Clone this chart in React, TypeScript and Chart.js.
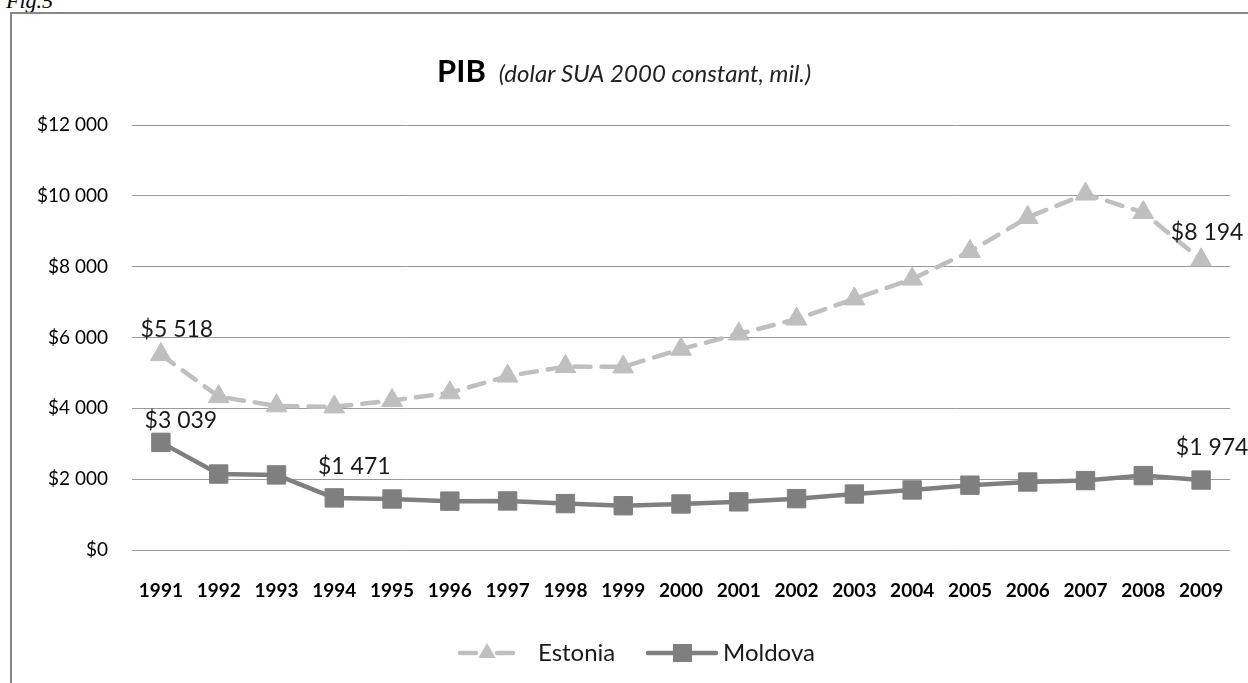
import React, { useEffect, useRef } from "react";
import { Chart, registerables } from "chart.js";

Chart.register(...registerables);

// ---- data ----
const years = ["1991", "1992", "1993", "1994", "1995", "1996", "1997", "1998", "1999", "2000",
  "2001", "2002", "2003", "2004", "2005", "2006", "2007", "2008", "2009"];
const estonia = [5518, 4330, 4070, 4040, 4220, 4440, 4910, 5180, 5170, 5670,
  6100, 6520, 7090, 7650, 8430, 9390, 10050, 9530, 8194];
const moldova = [3039, 2145, 2120, 1471, 1440, 1380, 1385, 1310, 1250, 1300,
  1360, 1450, 1580, 1695, 1830, 1920, 1960, 2100, 1974];
const seriesNames = ["Estonia", "Moldova"];
const estoniaLabeled = [0, 18];
const moldovaLabeled = [0, 3, 18];
const yMin = 0;
const yMax = 12000;
const yStep = 2000;
const titleMain = "PIB";
const titleSub = "(dolar SUA 2000 constant, mil.)";

// ---- styles ----
const FONT = "Lato, 'Open Sans', sans-serif";
const C_EST = "#bfbfbf";
const C_MOL = "#7f7f7f";
const LABEL_OFFSETS: Record<string, [number, number]> = {
  "0-0": [16, -25],
  "0-18": [6, -27],
  "1-0": [20, -22],
  "1-3": [20, -31],
  "1-18": [11, -33],
};

const fmt = (v: number) => "$" + String(Math.round(v)).replace(/\B(?=(\d{3})+(?!\d))/g, " ");

const decorPlugin = {
  id: "decor",
  afterDatasetsDraw(chart: any) {
    const ctx = chart.ctx as CanvasRenderingContext2D;
    ctx.save();
    // data labels
    ctx.fillStyle = "#1a1a1a";
    ctx.font = `23px ${FONT}`;
    ctx.textAlign = "center";
    ctx.textBaseline = "middle";
    const lists = [estoniaLabeled, moldovaLabeled];
    lists.forEach((idxs, di) => {
      const meta = chart.getDatasetMeta(di);
      idxs.forEach((i) => {
        const pt = meta.data[i];
        const off = LABEL_OFFSETS[`${di}-${i}`] || [0, -26];
        const v = chart.data.datasets[di].data[i] as number;
        ctx.fillText(fmt(v), pt.x + off[0], pt.y + off[1]);
      });
    });

    // title
    ctx.textAlign = "left";
    ctx.textBaseline = "alphabetic";
    ctx.fillStyle = "#000";
    ctx.font = `bold 31px ${FONT}`;
    const x0 = 437;
    ctx.fillText(titleMain, x0, 82);
    const w0 = ctx.measureText(titleMain).width;
    ctx.fillStyle = "#222";
    ctx.font = `italic 24px ${FONT}`;
    ctx.fillText(titleSub, x0 + w0 + 13, 82);

    // legend
    const ly = 653;
    const ds = chart.data.datasets;
    ctx.strokeStyle = ds[0].borderColor;
    ctx.lineWidth = 4.5;
    ctx.lineCap = "round";
    ctx.beginPath();
    ctx.moveTo(460, ly); ctx.lineTo(476, ly);
    ctx.moveTo(497, ly); ctx.lineTo(513, ly);
    ctx.stroke();
    ctx.fillStyle = ds[0].pointBackgroundColor;
    const tr = 10;
    ctx.beginPath();
    ctx.moveTo(487, ly - tr);
    ctx.lineTo(487 + tr * 0.866, ly + tr / 2);
    ctx.lineTo(487 - tr * 0.866, ly + tr / 2);
    ctx.closePath();
    ctx.fill();
    ctx.fillStyle = "#1a1a1a";
    ctx.font = `24px ${FONT}`;
    ctx.textBaseline = "middle";
    ctx.fillText(seriesNames[0], 538, ly);
    ctx.strokeStyle = ds[1].borderColor;
    ctx.lineWidth = 4.5;
    ctx.beginPath();
    ctx.moveTo(648, ly); ctx.lineTo(716, ly);
    ctx.stroke();
    ctx.fillStyle = ds[1].pointBackgroundColor;
    ctx.fillRect(673, ly - 9, 19, 18);
    ctx.fillStyle = "#1a1a1a";
    ctx.fillText(seriesNames[1], 723, ly);
    ctx.restore();
  },
};

export default function App() {
  const ref = useRef<HTMLCanvasElement | null>(null);
  useEffect(() => {
    if (!ref.current) return;
    const chart = new Chart(ref.current, {
      type: "line",
      data: {
        labels: years,
        datasets: [
          {
            label: seriesNames[0],
            data: estonia,
            borderColor: C_EST,
            backgroundColor: C_EST,
            borderWidth: 4.5,
            borderDash: [16, 11],
            borderCapStyle: "round",
            pointStyle: "triangle",
            pointRadius: 12,
            pointBackgroundColor: C_EST,
            pointBorderColor: C_EST,
            pointBorderWidth: 1,
            tension: 0,
          },
          {
            label: seriesNames[1],
            data: moldova,
            borderColor: C_MOL,
            backgroundColor: C_MOL,
            borderWidth: 4.5,
            pointStyle: "rect",
            pointRadius: 13,
            pointBackgroundColor: C_MOL,
            pointBorderColor: C_MOL,
            pointBorderWidth: 1,
            tension: 0,
          },
        ],
      },
      options: {
        responsive: false,
        animation: false,
        devicePixelRatio: 1,
        layout: { padding: { left: 20, right: 18, top: 125, bottom: 73 } },
        plugins: {
          legend: { display: false },
          title: { display: false },
          tooltip: { enabled: false },
        },
        scales: {
          x: {
            offset: true,
            grid: { display: false, drawTicks: false },
            border: { display: false },
            ticks: {
              color: "#000",
              font: { family: FONT, size: 19, weight: "bold" },
              padding: 29,
              maxRotation: 0,
              autoSkip: false,
            },
            afterFit: (s: any) => { s.height = 60; s.paddingLeft = 0; s.paddingRight = 0; },
          },
          y: {
            min: yMin,
            max: yMax,
            grid: { color: "#9a9a9a", lineWidth: 1, drawTicks: false },
            border: { display: false },
            ticks: {
              stepSize: yStep,
              color: "#000",
              font: { family: FONT, size: 19 },
              padding: 24,
              callback: (v: any) => fmt(Number(v)),
            },
            afterFit: (s: any) => { s.width = 112; s.paddingTop = 0; s.paddingBottom = 0; },
          },
        },
      },
      plugins: [decorPlugin],
    });
    return () => chart.destroy();
  }, []);

  return (
    <div style={{ position: "fixed", left: 0, top: 0, width: 1248, height: 683, overflow: "hidden", background: "#fff" }}>
      <div style={{ position: "absolute", left: 6, top: -10, font: "italic 22px 'Liberation Serif', serif", lineHeight: "22px", color: "#000" }}>Fig.5</div>
      <div style={{ position: "absolute", left: 10, top: 12, width: 1400, height: 900, border: "2px solid #888", boxSizing: "border-box" }} />
      <canvas ref={ref} width={1248} height={683} style={{ position: "absolute", left: 0, top: 0, width: 1248, height: 683 }} />
    </div>
  );
}
